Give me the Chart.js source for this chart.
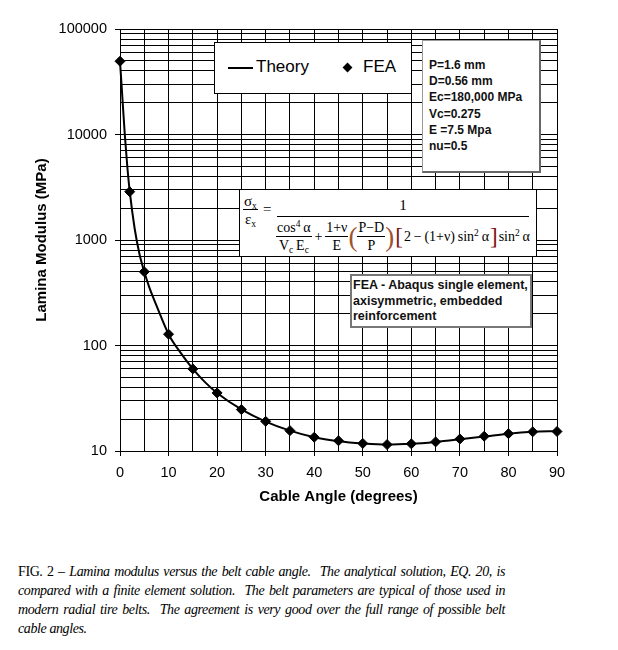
<!DOCTYPE html>
<html>
<head>
<meta charset="utf-8">
<script src="https://cdn.jsdelivr.net/npm/chart.js@4"></script>
<style>
  body { margin: 0; background: #fff; }
  #wrap { position: relative; width: 618px; height: 650px; }
  #chartBox { position: absolute; left: 0; top: 0; width: 618px; height: 520px; }
  .box { position: absolute; background: #fff; box-sizing: border-box; }
  #legendBox { left: 214px; top: 42px; width: 198px; height: 52px; border: 1px solid #000;
    font-family: "Liberation Sans", Arial, sans-serif; font-size: 17px; }
  #legendBox .ln { position: absolute; left: 13px; top: 24px; width: 25px; height: 2px; background: #000; }
  #legendBox .t1 { position: absolute; left: 41px; top: 14px; }
  #legendBox .dm { position: absolute; left: 129px; top: 21px; width: 7px; height: 7px; background: #000; transform: rotate(45deg); }
  #legendBox .t2 { position: absolute; left: 148px; top: 14px; }
  #params { left: 422px; top: 40px; width: 119px; height: 133px; border: 1px solid #999;
    border-right: 2px solid #666; border-bottom: 2px solid #666;
    font-family: "Liberation Sans", Arial, sans-serif; font-weight: bold; font-size: 12px;
    line-height: 16.2px; padding: 16px 0 0 6px; color: #111; }
  #feaNote { left: 350px; top: 274px; width: 182px; height: 54px; border: 2px solid #777;
    font-family: "Liberation Sans", Arial, sans-serif; font-weight: bold; font-size: 12.5px;
    line-height: 15.5px; padding: 2px 0 0 1px; color: #111; }
  #eq { left: 239px; top: 189px; width: 298px; height: 68px; border: 1px solid #000;
    font-family: "Liberation Serif", "Times New Roman", serif; font-size: 14px; white-space: nowrap; }
  .frac { display: inline-flex; flex-direction: column; align-items: center; }
  .frac > .n { border-bottom: 1px solid #000; padding: 0 1px; line-height: 16px; }
  .frac > .d { line-height: 16px; padding-top: 1px; }
  #lhs { position: absolute; left: 3px; top: 3px; font-size: 15px; }
  #eqs { position: absolute; left: 23px; top: 11px; font-size: 15px; }
  #rhs { position: absolute; left: 37px; top: 5px; width: 252px; text-align: center; }
  #rhs .top { line-height: 21px; border-bottom: 1px solid #000; font-size: 15px; }
  #rhs .bot { display: flex; align-items: center; justify-content: center; padding-top: 3px; }
  .par { font-size: 27px; line-height: 30px; color: #a0522d; margin: 0; }
  .brk { font-size: 23px; line-height: 28px; color: #7a1010; margin: 0 1px; }
  sub { font-size: 9.5px; vertical-align: -3px; line-height: 0; }
  sup { font-size: 9.5px; vertical-align: 5px; line-height: 0; }
  #caption { position: absolute; left: 18px; top: 562px; width: 487px;
    font-family: "Liberation Serif", "Times New Roman", serif; font-size: 14px; letter-spacing: -0.4px; line-height: 19px; }
  #caption div { text-align: justify; text-align-last: justify; white-space: nowrap; }
  #caption div.last { text-align-last: left; }
</style>
</head>
<body>
<div id="wrap">
  <div id="chartBox"><canvas id="lamChart" width="618" height="520"></canvas></div>

  <div class="box" id="legendBox">
    <div class="ln"></div><div class="t1">Theory</div>
    <div class="dm"></div><div class="t2">FEA</div>
  </div>

  <div class="box" id="params">
    P=1.6 mm<br>D=0.56 mm<br>Ec=180,000 MPa<br>Vc=0.275<br>E =7.5 Mpa<br>nu=0.5
  </div>

  <div class="box" id="eq">
    <span class="frac" id="lhs"><span class="n">σ<sub>x</sub></span><span class="d">ε<sub>x</sub></span></span>
    <span id="eqs">=</span>
    <div id="rhs">
      <div class="top">1</div>
      <div class="bot">
        <span class="frac"><span class="n">cos<sup>4</sup>&thinsp;α</span><span class="d">V<sub>c</sub>&thinsp;E<sub>c</sub></span></span>
        <span>&thinsp;+&thinsp;</span>
        <span class="frac"><span class="n">1+ν</span><span class="d">E</span></span>
        <span class="par">(</span>
        <span class="frac"><span class="n">P−D</span><span class="d">P</span></span>
        <span class="par">)</span>
        <span class="brk">[</span>
        <span>2&thinsp;−&thinsp;(1+ν)&thinsp;sin<sup>2</sup>&thinsp;α</span>
        <span class="brk">]</span>
        <span>sin<sup>2</sup>&thinsp;α</span>
      </div>
    </div>
  </div>

  <div class="box" id="feaNote">
    FEA - Abaqus single element,<br>axisymmetric, embedded<br>reinforcement
  </div>

  <div id="caption">
    <div>FIG. 2 – <i>Lamina modulus versus the belt cable angle.&nbsp; The analytical solution, EQ. 20, is</i></div>
    <div><i>compared with a finite element solution.&nbsp; The belt parameters are typical of those used in</i></div>
    <div><i>modern radial tire belts.&nbsp; The agreement is very good over the full range of possible belt</i></div>
    <div class="last"><i>cable angles.</i></div>
  </div>
</div>

<script>
// cable angle (deg) vs lamina modulus (MPa)
const theoryAngles = [0, 0.5, 1, 1.5, 2, 3, 4, 5, 6, 7.5, 10, 12.5, 15, 17.5, 20, 25, 30, 35, 40, 45, 50, 55, 60, 65, 70, 75, 80, 85, 90];
const theoryValues = [49500, 22000, 9800, 5000, 2900, 1300, 740, 500, 360, 240, 128, 85, 60, 45, 35.5, 24.8, 19.0, 15.6, 13.5, 12.4, 11.8, 11.5, 11.7, 12.2, 12.9, 13.7, 14.6, 15.2, 15.4];

const feaAngles = [0, 2, 5, 10, 15, 20, 25, 30, 35, 40, 45, 50, 55, 60, 65, 70, 75, 80, 85, 90];
const feaValues = [49500, 2870, 500, 128, 60, 35.5, 24.7, 19.1, 15.6, 13.5, 12.5, 11.8, 11.5, 11.7, 12.2, 13.0, 13.8, 14.6, 15.2, 15.3];

const xTickLabels = [0, 10, 20, 30, 40, 50, 60, 70, 80, 90];
const yTickLabels = [10, 100, 1000, 10000, 100000];

Chart.defaults.font.family = "'Liberation Sans', Arial, sans-serif";
Chart.defaults.color = "#000";

const theoryPoints = theoryAngles.map((a, i) => ({ x: a, y: theoryValues[i] }));
const feaPoints = feaAngles.map((a, i) => ({ x: a, y: feaValues[i] }));

function isDecade(v) {
  return yTickLabels.includes(v);
}

new Chart(document.getElementById("lamChart"), {
  type: "scatter",
  data: {
    datasets: [
      {
        label: "Theory",
        data: theoryPoints,
        showLine: true,
        borderColor: "#000",
        borderWidth: 2,
        pointRadius: 0,
        cubicInterpolationMode: "monotone",
        clip: false,
      },
      {
        label: "FEA",
        data: feaPoints,
        pointStyle: "rectRot",
        pointRadius: 5,
        pointBackgroundColor: "#000",
        pointBorderColor: "#000",
        clip: false,
      },
    ],
  },
  options: {
    responsive: false,
    animation: false,
    layout: { padding: { top: 29, right: 61, bottom: 0, left: 0 } },
    plugins: {
      legend: { display: false },
      tooltip: { enabled: false },
    },
    scales: {
      x: {
        type: "linear",
        min: 0,
        max: 90,
        afterFit: (scale) => { scale.height = 69; },
        ticks: {
          stepSize: 5,
          padding: 8,
          font: { size: 14.5 },
          callback: (v) => (xTickLabels.includes(v) ? String(v) : ""),
        },
        grid: {
          color: "#000",
          lineWidth: 1,
          tickLength: 5,
          tickColor: (c) => (c.tick && xTickLabels.includes(c.tick.value) ? "#000" : "rgba(0,0,0,0)"),
        },
        border: { color: "#000" },
        title: {
          display: true,
          text: "Cable Angle (degrees)",
          font: { size: 15, weight: "bold" },
          padding: { top: 0, bottom: 14 },
        },
      },
      y: {
        type: "logarithmic",
        min: 10,
        max: 100000,
        afterFit: (scale) => { scale.width = 120; },
        afterBuildTicks: (scale) => {
          // keep only 1..9 x 10^n gridlines
          scale.ticks = scale.ticks.filter((t) => {
            const m = t.value / Math.pow(10, Math.floor(Math.log10(t.value) + 1e-9));
            return Math.abs(m - Math.round(m)) < 1e-6;
          });
        },
        ticks: {
          padding: 8,
          font: { size: 14.5 },
          autoSkip: false,
          callback: (v) => (isDecade(v) ? String(v) : ""),
        },
        grid: {
          color: "#000",
          lineWidth: 1,
          tickLength: 5,
          tickColor: (c) => (c.tick && isDecade(c.tick.value) ? "#000" : "rgba(0,0,0,0)"),
        },
        border: { color: "#000" },
        title: {
          display: true,
          text: "Lamina Modulus (MPa)",
          font: { size: 15, weight: "bold" },
          padding: { top: 33, bottom: 0 },
        },
      },
    },
  },
});
</script>
</body>
</html>
